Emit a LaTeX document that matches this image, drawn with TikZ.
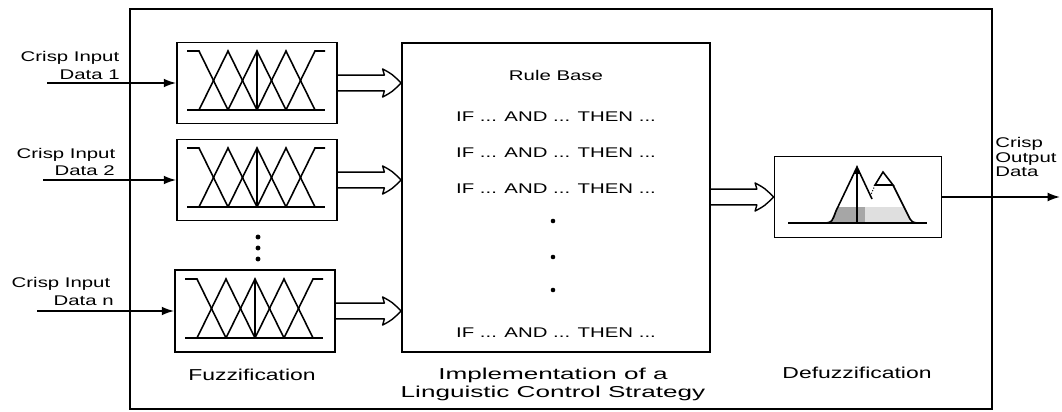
\documentclass[tikz,border=0pt]{standalone}
\usepackage{fontspec}
\setmainfont{Liberation Sans}[FakeStretch=1.45]
\newfontfamily\capfont{Liberation Sans}[FakeStretch=1.65]
\usetikzlibrary{arrows.meta}

\begin{document}
\begin{tikzpicture}[x=0.02cm, y=-0.02cm,
  box/.style={draw, line width=1.1pt, inner sep=0pt},
  lbl/.style={font=\fontsize{8}{8.5}\selectfont, inner sep=0pt},
  mf/.style={line width=0.9pt},
  fat/.style={line width=0.8pt, line join=round, to path={
      ([yshift=4.5pt]\tikztostart) -- ([xshift=-9.5pt, yshift=4.5pt]\tikztotarget)
      -- ([xshift=-10.5pt, yshift=8pt]\tikztotarget)
      .. controls ([xshift=-5pt, yshift=5pt]\tikztotarget) .. (\tikztotarget)
      .. controls ([xshift=-5pt, yshift=-5pt]\tikztotarget) .. ([xshift=-10.5pt, yshift=-8pt]\tikztotarget)
      -- ([xshift=-9.5pt, yshift=-4.5pt]\tikztotarget) -- ([yshift=-4.5pt]\tikztostart)}},
  sig/.style={line width=0.9pt, -{Latex[length=7pt, width=5pt]}}]
  \useasboundingbox (0,0) rectangle (1062,412);
  \draw[line width=1.1pt] (130,9) rectangle (992,409);

  % Fuzzification boxes
  \node[box, minimum width=3.2cm, minimum height=1.62cm] (fz1) at (257,83) {};
  \node[box, minimum width=3.2cm, minimum height=1.62cm] (fz2) at (257,180) {};
  \node[box, minimum width=3.2cm, minimum height=1.64cm] (fzn) at (255,311) {};
  \foreach \b in {fz1,fz2,fzn}{
    \begin{scope}[shift={(\b.center)}, mf]
      \draw (-70,27) -- (68,27);
      \draw (-70,-32) -- (-58,-32) -- (-29,27);
      \foreach \c in {-29,0,29}
        \draw (\c-29,27) -- (\c,-32) -- (\c+29,27);
      \draw (29,27) -- (58,-32) -- (68,-32);
      \draw (0,27) -- (0,-32);
    \end{scope}
  }
  \foreach \yy in {237,248,259}
    \fill (258,\yy) circle (1.4pt);
  \node[lbl, font=\fontsize{9}{10}\selectfont] (fzl) at (252,375) {Fuzzification};

  % Crisp inputs
  \node[lbl] (ci1) at (70,58) {Crisp Input};
  \node[lbl, anchor=east] (cd1) at (120,75) {Data 1};
  \node[lbl] (ci2) at (66,155) {Crisp Input};
  \node[lbl, anchor=east] (cd2) at (115,171) {Data 2};
  \node[lbl] (cin) at (61,284) {Crisp Input};
  \node[lbl, anchor=east] (cdn) at (114,301) {Data n};
  \coordinate (in1) at (47,83);
  \coordinate (in2) at (43,180);
  \coordinate (inn) at (37,311);
  \draw[sig] (in1) -- (fz1.west);
  \draw[sig] (in2) -- (fz2.west);
  \draw[sig] (inn) -- (fzn.west);

  % Rule base
  \node[box, minimum width=6.16cm, minimum height=6.18cm] (rules) at (556,197.5) {};
  \node[lbl] (rb) at (556,75) {Rule Base};
  \foreach \yy/\nm in {117/r1,153/r2,189/r3,333/rn}
    \node[lbl] (\nm) at (556,\yy) {IF ... AND ... THEN ...};
  \foreach \yy in {221,257,290}
    \fill (553,\yy) circle (1.3pt);
  \node[lbl, font=\capfont\fontsize{9}{10.2}\selectfont, align=center] (rbl) at (553,384)
    {Implementation of a\\Linguistic Control Strategy};
  \coordinate (h1) at (fz1.east -| rules.west);
  \coordinate (h2) at (fz2.east -| rules.west);
  \coordinate (hn) at (fzn.east -| rules.west);
  \draw[fat] (fz1.east) to (h1);
  \draw[fat] (fz2.east) to (h2);
  \draw[fat] (fzn.east) to (hn);

  % Defuzzification
  \node[box, minimum width=3.34cm, minimum height=1.62cm] (defz) at (858,197) {};
  \begin{scope}[shift={(defz.center)}, mf]
    \fill[gray!70] (-28,26) -- (-21,10) -- (7,10) -- (7,26) -- cycle;
    \fill[gray!25] (7,26) -- (7,10) -- (46,10) -- (53,26) -- cycle;
    \draw (-70,26) -- (69,26);
    \draw (-32,26) .. controls (-26,25) .. (-22,14) -- (-1,-30) -- (14,2);
    \draw (17,-12) -- (25,-25) -- (35,-12) -- cycle;
    \draw (35,-12) -- (52,22) .. controls (54,25) .. (59,26);
    \draw[densely dotted, line width=0.6pt] (17,-12) -- (12,0);
    \draw[-{Latex[length=5pt, width=4pt]}] (-1,26) -- (-1,-32);
  \end{scope}
  \node[lbl, font=\fontsize{9}{10}\selectfont] (dfl) at (857,373) {Defuzzification};
  \coordinate (hd) at (rules.east |- defz.west);
  \draw[fat] (hd) to (defz.west);

  % Crisp output
  \node[lbl, align=left, anchor=west] (col) at (995,157) {Crisp\\Output\\Data};
  \coordinate (out) at (1060,197);
  \draw[sig] (defz.east) -- (out);
\end{tikzpicture}
\end{document}
